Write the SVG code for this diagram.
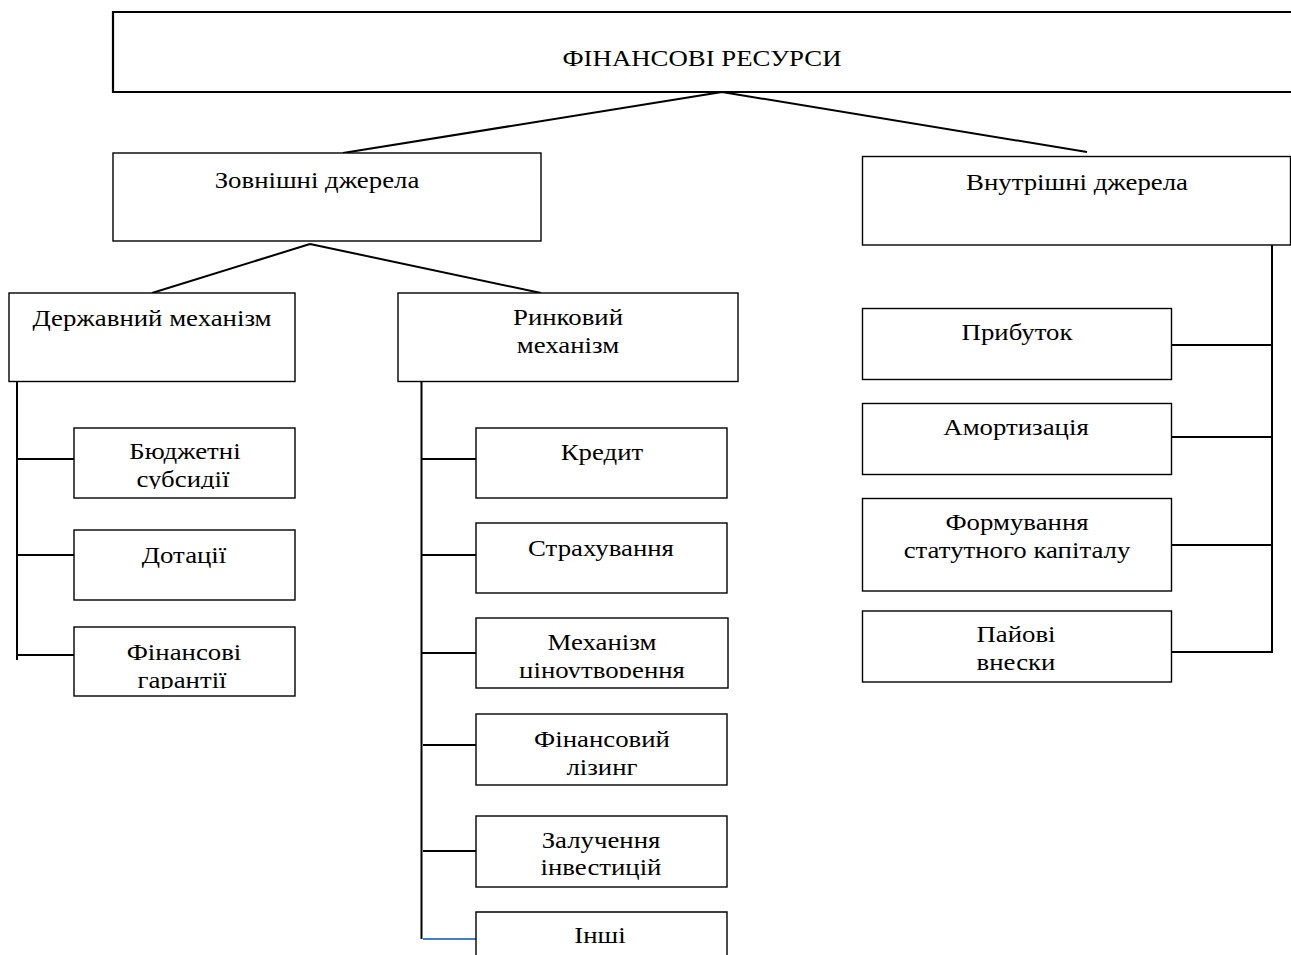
<svg xmlns="http://www.w3.org/2000/svg" width="1291" height="955" viewBox="0 0 1291 955">
<style>
.box{fill:#fff;stroke:#000;stroke-width:1.4}
.tbox{fill:#fff;stroke:#000;stroke-width:2.2}
.t{font-family:"Liberation Serif","Times New Roman",serif;font-size:24px;fill:#000;text-anchor:middle}
.c{fill:none;stroke:#000;stroke-width:2}
</style>
<defs>
<clipPath id="clipBud"><rect x="74" y="428" width="221" height="61"/></clipPath>
<clipPath id="clipFinG"><rect x="74" y="627" width="221" height="62"/></clipPath>
<clipPath id="clipMech"><rect x="476" y="618" width="252" height="60"/></clipPath>
</defs>
<rect width="1291" height="955" fill="#fff"/>

<g id="connectors">
<path class="c" d="M722,92 L343,153 M722,92 L1087,152"/>
<path class="c" d="M310,244 L152,293 M310,244 L541,293"/>
<path class="c" d="M17,381 V660 M17,459 H74 M17,555 H74 M17,655 H74"/>
<path class="c" d="M421.5,381 V939 M421,459 H476 M421,555 H476 M421,653 H476 M423,745 H478 M423,851 H478"/>
<path fill="none" stroke="#4a7ebb" stroke-width="2" d="M423,939 H478"/>
<path class="c" d="M1272,245 V653 M1172,345 H1272 M1172,437 H1272 M1172,545 H1272 M1172,652 H1272"/>
</g>

<g id="n-root">
<path class="tbox" d="M1291,12 H113 V92 H1291"/>
<text class="t" transform="translate(702,0) scale(1.117,1)" x="0" y="66">ФІНАНСОВІ РЕСУРСИ</text>
</g>

<g id="n-external">
<rect class="box" x="113" y="153" width="428" height="88"/>
<text class="t" transform="translate(317,0) scale(1.117,1)" x="0" y="188">Зовнішні джерела</text>
</g>

<g id="n-internal">
<rect class="box" x="862.5" y="156.5" width="428" height="88.5"/>
<text class="t" transform="translate(1077,0) scale(1.117,1)" x="0" y="190">Внутрішні джерела</text>
</g>

<g id="n-state">
<rect class="box" x="9" y="293" width="286" height="88.5"/>
<text class="t" transform="translate(152,0) scale(1.117,1)" x="0" y="326">Державний механізм</text>
</g>

<g id="n-market">
<rect class="box" x="398" y="293" width="340" height="88.5"/>
<text class="t" transform="translate(568,0) scale(1.117,1)" x="0" y="325">Ринковий</text>
<text class="t" transform="translate(568,0) scale(1.117,1)" x="0" y="353">механізм</text>
</g>

<g id="n-budget">
<rect class="box" x="74" y="428" width="221" height="70"/>
<g clip-path="url(#clipBud)">
<text class="t" transform="translate(185,0) scale(1.117,1)" x="0" y="459">Бюджетні</text>
<text class="t" transform="translate(183,0) scale(1.117,1)" x="0" y="487">субсидії</text>
</g>
</g>

<g id="n-dotacii">
<rect class="box" x="74" y="530" width="221" height="70"/>
<text class="t" transform="translate(184,0) scale(1.117,1)" x="0" y="563">Дотації</text>
</g>

<g id="n-fin-guar">
<rect class="box" x="74" y="627" width="221" height="69"/>
<g clip-path="url(#clipFinG)">
<text class="t" transform="translate(184,0) scale(1.117,1)" x="0" y="660">Фінансові</text>
<text class="t" transform="translate(182,0) scale(1.117,1)" x="0" y="688">гарантії</text>
</g>
</g>

<g id="n-credit">
<rect class="box" x="476" y="428" width="251" height="70"/>
<text class="t" transform="translate(602,0) scale(1.117,1)" x="0" y="460">Кредит</text>
</g>

<g id="n-insurance">
<rect class="box" x="476" y="523" width="251" height="70"/>
<text class="t" transform="translate(601,0) scale(1.117,1)" x="0" y="556">Страхування</text>
</g>

<g id="n-pricing">
<rect class="box" x="476" y="618" width="252" height="70"/>
<g clip-path="url(#clipMech)">
<text class="t" transform="translate(602,0) scale(1.117,1)" x="0" y="650">Механізм</text>
<text class="t" transform="translate(602,0) scale(1.117,1)" x="0" y="678">ціноутворення</text>
</g>
</g>

<g id="n-leasing">
<rect class="box" x="476" y="714" width="251" height="71"/>
<text class="t" transform="translate(602,0) scale(1.117,1)" x="0" y="747">Фінансовий</text>
<text class="t" transform="translate(602,0) scale(1.117,1)" x="0" y="775">лізинг</text>
</g>

<g id="n-invest">
<rect class="box" x="476" y="816" width="251" height="71"/>
<text class="t" transform="translate(601,0) scale(1.117,1)" x="0" y="848">Залучення</text>
<text class="t" transform="translate(601,0) scale(1.117,1)" x="0" y="875">інвестицій</text>
</g>

<g id="n-other">
<path class="box" d="M476,960 V912 H727 V960"/>
<text class="t" transform="translate(600,0) scale(1.117,1)" x="0" y="943">Інші</text>
</g>

<g id="n-profit">
<rect class="box" x="862.5" y="308.5" width="309" height="71"/>
<text class="t" transform="translate(1017,0) scale(1.117,1)" x="0" y="340">Прибуток</text>
</g>

<g id="n-amort">
<rect class="box" x="862.5" y="403.5" width="309" height="71"/>
<text class="t" transform="translate(1016,0) scale(1.117,1)" x="0" y="435">Амортизація</text>
</g>

<g id="n-capital">
<rect class="box" x="862.5" y="498.5" width="309" height="92.5"/>
<text class="t" transform="translate(1017,0) scale(1.117,1)" x="0" y="530">Формування</text>
<text class="t" transform="translate(1017,0) scale(1.117,1)" x="0" y="558">статутного капіталу</text>
</g>

<g id="n-share">
<rect class="box" x="862.5" y="611" width="309" height="71"/>
<text class="t" transform="translate(1016,0) scale(1.117,1)" x="0" y="642">Пайові</text>
<text class="t" transform="translate(1016,0) scale(1.117,1)" x="0" y="670">внески</text>
</g>
</svg>
